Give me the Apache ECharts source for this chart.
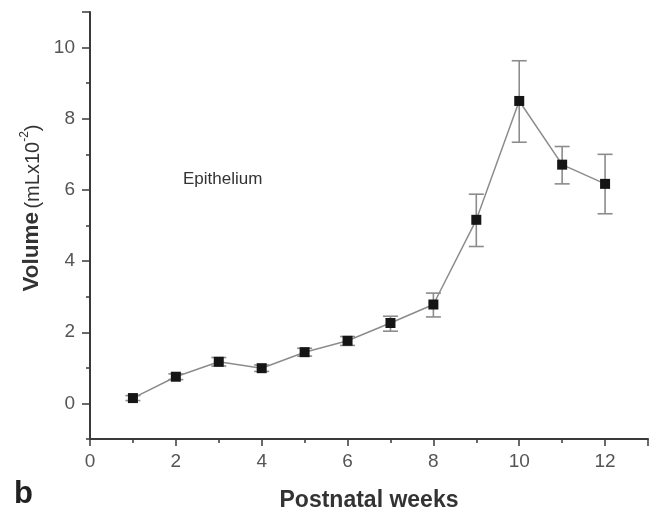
<!DOCTYPE html>
<html>
<head>
<meta charset="utf-8">
<script src="https://cdn.jsdelivr.net/npm/echarts@6/dist/echarts.min.js"></script>
<style>
  html, body { margin: 0; padding: 0; background: #fff; }
  #chart { width: 659px; height: 514px; }
</style>
</head>
<body>
<div id="chart"></div>
<script>
// Epithelium volume by postnatal week, mean with error range
const weeks    = [1, 2, 3, 4, 5, 6, 7, 8, 9, 10, 11, 12];
const volume   = [0.15, 0.75, 1.17, 0.99, 1.44, 1.76, 2.26, 2.78, 5.16, 8.50, 6.71, 6.17];
const errLow   = [0.08, 0.67, 1.05, 0.90, 1.33, 1.63, 2.03, 2.43, 4.41, 7.34, 6.17, 5.33];
const errHigh  = [0.22, 0.83, 1.29, 1.08, 1.55, 1.88, 2.45, 3.10, 5.88, 9.63, 7.22, 7.00];
const xTickLabels = [0, 2, 4, 6, 8, 10, 12];
const yTickLabels = [0, 2, 4, 6, 8, 10];

const FONT = 'Liberation Sans, Arial, sans-serif';
const AXIS = '#3a3a3a';
const GREY = '#8c8c8c';

const chart = echarts.init(document.getElementById('chart'), null, { renderer: 'canvas' });

const points = weeks.map((w, i) => [w, volume[i]]);
const bars = weeks.map((w, i) => [w, errLow[i], errHigh[i]]);

// second grid carries the labelled y ticks: same pixel scale, starting at 0
const PLOT_TOP = 12, PLOT_BOTTOM = 75, Y_MIN = -1, Y_MAX = 11;
const unitPx = (514 - PLOT_TOP - PLOT_BOTTOM) / (Y_MAX - Y_MIN);

chart.setOption({
  animation: false,
  backgroundColor: '#fff',
  grid: [
    { left: 90, right: 11, top: PLOT_TOP, bottom: PLOT_BOTTOM, containLabel: false, outerBoundsMode: 'none' },
    { left: 90, right: 11, top: PLOT_TOP, bottom: PLOT_BOTTOM + unitPx * (0 - Y_MIN), containLabel: false, outerBoundsMode: 'none' }
  ],
  xAxis: [
    {
      type: 'value', gridIndex: 0, min: 0, max: 13, interval: 1,
      axisLine: { show: true, onZero: false, lineStyle: { color: AXIS, width: 2 } },
      axisTick: { show: true, length: 4, lineStyle: { color: AXIS, width: 1.5 } },
      axisLabel: {
        margin: 13, color: '#555', fontSize: 19, fontFamily: FONT,
        formatter: v => (xTickLabels.indexOf(v) >= 0 ? String(v) : '')
      },
      splitLine: { show: false },
      name: 'Postnatal weeks', nameLocation: 'middle', nameGap: 50,
      nameTextStyle: { fontSize: 23, fontWeight: 'bold', color: '#333', fontFamily: FONT }
    },
    {
      type: 'value', gridIndex: 0, min: 0, max: 13, interval: 2, position: 'bottom',
      axisLine: { show: false, onZero: false },
      axisTick: { show: true, length: 7, lineStyle: { color: AXIS, width: 1.5 } },
      axisLabel: { show: false },
      splitLine: { show: false }
    },
    {
      type: 'value', gridIndex: 1, min: 0, max: 13, show: false
    }
  ],
  yAxis: [
    {
      type: 'value', gridIndex: 0, min: Y_MIN, max: Y_MAX, interval: 1,
      axisLine: { show: true, onZero: false, lineStyle: { color: AXIS, width: 2 } },
      axisTick: { show: true, length: 4, lineStyle: { color: AXIS, width: 1.5 } },
      axisLabel: { show: false },
      splitLine: { show: false }
    },
    {
      type: 'value', gridIndex: 1, min: 0, max: Y_MAX, interval: 2,
      axisLine: { show: false, onZero: false },
      axisTick: { show: true, length: 8, lineStyle: { color: AXIS, width: 1.5 } },
      axisLabel: {
        margin: 15, color: '#555', fontSize: 19, fontFamily: FONT,
        formatter: v => (yTickLabels.indexOf(v) >= 0 ? String(v) : '')
      },
      splitLine: { show: false }
    }
  ],
  graphic: [
    {
      type: 'text', left: 183, top: 171,
      style: { text: 'Epithelium', fontSize: 17, fontFamily: FONT, fill: '#333' }
    },
    {
      type: 'text', left: 14, top: 479,
      style: { text: 'b', fontSize: 31, fontWeight: 'bold', fontFamily: FONT, fill: '#222' }
    },
    {
      type: 'text', x: 31, y: 208, rotation: Math.PI / 2,
      style: {
        text: '{b|Volume} {n|(mLx10}{s|-2}{n|)}',
        align: 'center', verticalAlign: 'middle',
        fill: '#333',
        rich: {
          b: { fontSize: 22.5, fontWeight: 'bold', fontFamily: FONT, fill: '#333', verticalAlign: 'bottom' },
          n: { fontSize: 20, fontFamily: FONT, fill: '#333', verticalAlign: 'bottom' },
          s: { fontSize: 12, fontFamily: FONT, fill: '#333', verticalAlign: 'top', padding: [0, 0, 12, 0] }
        }
      }
    }
  ],
  series: [
    {
      type: 'custom', xAxisIndex: 0, yAxisIndex: 0, z: 2,
      data: bars,
      renderItem: function (params, api) {
        const x = api.value(0);
        const lo = api.coord([x, api.value(1)]);
        const hi = api.coord([x, api.value(2)]);
        const cap = 7.5;
        const st = { stroke: GREY, lineWidth: 1.6 };
        return {
          type: 'group',
          children: [
            { type: 'line', shape: { x1: lo[0], y1: lo[1], x2: hi[0], y2: hi[1] }, style: st },
            { type: 'line', shape: { x1: hi[0] - cap, y1: hi[1], x2: hi[0] + cap, y2: hi[1] }, style: st },
            { type: 'line', shape: { x1: lo[0] - cap, y1: lo[1], x2: lo[0] + cap, y2: lo[1] }, style: st }
          ]
        };
      }
    },
    {
      type: 'line', xAxisIndex: 0, yAxisIndex: 0, z: 3,
      data: points,
      symbol: 'rect', symbolSize: 10,
      lineStyle: { color: GREY, width: 1.5 },
      itemStyle: { color: '#151515', borderWidth: 0 }
    }
  ]
});
</script>
</body>
</html>
